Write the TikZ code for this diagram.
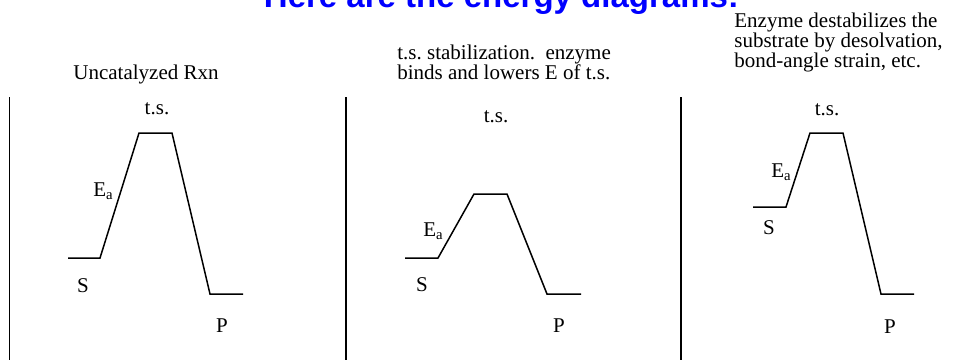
\documentclass[tikz,border=0pt]{standalone}
\usepackage{fontspec}
\setmainfont{Liberation Serif}
\newfontfamily\headfont{Liberation Sans}
\frenchspacing
\tikzset{
  lbl/.style={font=\fontsize{10.5}{10}\selectfont, inner sep=0pt, anchor=base},
  caption/.style={lbl, align=left, anchor=north west},
  heading/.style={font=\headfont\bfseries\fontsize{16.5}{18}\selectfont, text=blue, inner sep=0pt, anchor=base},
  axis/.style={line width=0.75pt},
  profile/.style={line width=0.75pt, line join=miter},
}
\begin{document}
\begin{tikzpicture}[x=0.5pt, y=-0.5pt]
  \useasboundingbox (0,0) rectangle (980,360);
  \node[heading] (title) at (501.5,7) {Here are the energy diagrams:};

  % uncatalyzed
  \coordinate (ax1top) at (9.5,97);
  \coordinate (ax1bot) at (9.5,360);
  \draw[axis] (ax1top) -- (ax1bot);
  \coordinate (s1a) at (68,258);
  \coordinate (s1b) at (100,258);
  \coordinate (t1a) at (139,133);
  \coordinate (t1b) at (172,133);
  \coordinate (p1a) at (210,294);
  \coordinate (p1b) at (243,294);
  \draw[profile] (s1a) -- (s1b) -- (t1a) -- (t1b) -- (p1a) -- (p1b);
  \node[lbl] (cap1) at (146,79) {Uncatalyzed Rxn};
  \node[lbl] (ts1) at (157,114) {t.s.};
  \node[lbl, anchor=base west] (ea1) at (93,196) {E\textsubscript{a}};
  \node[lbl] (s1) at (83,292) {S};
  \node[lbl] (p1) at (222,332) {P};

  % t.s. stabilization
  \coordinate (ax2top) at (346,97);
  \coordinate (ax2bot) at (346,360);
  \draw[axis] (ax2top) -- (ax2bot);
  \coordinate (s2a) at (405,258);
  \coordinate (s2b) at (438,258);
  \coordinate (t2a) at (474,194);
  \coordinate (t2b) at (507,194);
  \coordinate (p2a) at (547,294);
  \coordinate (p2b) at (581,294);
  \draw[profile] (s2a) -- (s2b) -- (t2a) -- (t2b) -- (p2a) -- (p2b);
  \node[caption] (cap2) at (397,45) {t.s. stabilization.\ \ enzyme\\binds and lowers E of t.s.};
  \node[lbl] (ts2) at (496,122) {t.s.};
  \node[lbl, anchor=base west] (ea2) at (423,236) {E\textsubscript{a}};
  \node[lbl] (s2) at (422,291) {S};
  \node[lbl] (p2) at (559,332) {P};

  % substrate destabilization
  \coordinate (ax3top) at (681,97);
  \coordinate (ax3bot) at (681,360);
  \draw[axis] (ax3top) -- (ax3bot);
  \coordinate (s3a) at (753,207);
  \coordinate (s3b) at (786,207);
  \coordinate (t3a) at (810,133);
  \coordinate (t3b) at (843,133);
  \coordinate (p3a) at (881,294);
  \coordinate (p3b) at (914,294);
  \draw[profile] (s3a) -- (s3b) -- (t3a) -- (t3b) -- (p3a) -- (p3b);
  \node[caption] (cap3) at (734,13) {Enzyme destabilizes the\\substrate by desolvation,\\bond-angle strain, etc.};
  \node[lbl] (ts3) at (827,115) {t.s.};
  \node[lbl, anchor=base west] (ea3) at (771,177) {E\textsubscript{a}};
  \node[lbl] (s3) at (769,234) {S};
  \node[lbl] (p3) at (890,333) {P};
\end{tikzpicture}
\end{document}
